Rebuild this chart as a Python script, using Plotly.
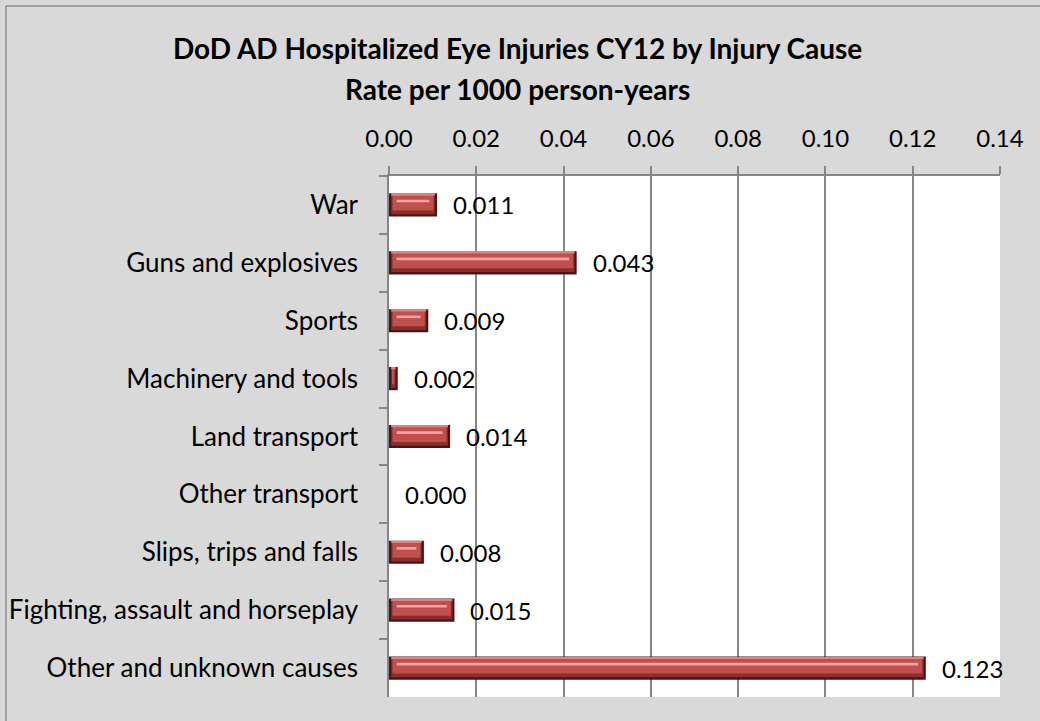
import plotly.graph_objects as go

categories = [
    "War",
    "Guns and explosives",
    "Sports",
    "Machinery and tools",
    "Land transport",
    "Other transport",
    "Slips, trips and falls",
    "Fighting, assault and horseplay",
    "Other and unknown causes",
]
rates = [0.011, 0.043, 0.009, 0.002, 0.014, 0.000, 0.008, 0.015, 0.123]
tick_vals = [0.00, 0.02, 0.04, 0.06, 0.08, 0.10, 0.12, 0.14]
tick_text = ["0.00", "0.02", "0.04", "0.06", "0.08", "0.10", "0.12", "0.14"]

TITLE_LINES = ["DoD AD Hospitalized Eye Injuries CY12 by Injury Cause",
               "Rate per 1000 person-years"]
FONT = "Lato, 'Open Sans', sans-serif"

W, H = 1040, 721
ML, MR, MT, MB = 389, 40, 176, 24
PW, PH = W - ML - MR, H - MT - MB

inset = 0.0005  # bevel inset in data units (styling)

fig = go.Figure()

# layered bars to mimic Excel bevel effect
layers = [
    # color, offset, width, x-inset multiplier
    ("#4a1414", -0.20, 0.40, 0),
    ("#8a2d2b", -0.19, 0.35, 1),
    ("#c0504d", -0.175, 0.27, 1.6),
    ("#f3a3a1", -0.09, 0.045, 3.5),
]
for color, off, wid, k in layers:
    xs = [max(v - 2 * k * inset, 0) for v in rates]
    bases = [k * inset if v - 2 * k * inset > 0 else 0 for v in rates]
    fig.add_trace(go.Bar(
        y=categories, x=xs, base=bases, orientation="h",
        marker=dict(color=color, line=dict(width=0)),
        offset=off, width=wid, hoverinfo="skip", showlegend=False,
    ))

# light top edge
fig.add_trace(go.Bar(
    y=categories, x=[max(v - 2 * inset, 0) for v in rates],
    base=[inset if v > 2 * inset else 0 for v in rates], orientation="h",
    marker=dict(color="#d98482", line=dict(width=0)),
    offset=-0.19, width=0.03, hoverinfo="skip", showlegend=False,
))

px2x = lambda px: (px - ML) / PW
py2y = lambda py: (H - MB - py) / PH

annotations = []
for c, v in zip(categories, rates):
    annotations.append(dict(
        x=v, y=c, xref="x", yref="y", text=f"{v:.3f}", showarrow=False,
        xanchor="left", yanchor="middle", xshift=14,
        font=dict(family=FONT, size=24, color="#000000"),
    ))

for line, py in zip(TITLE_LINES, [48, 89]):
    annotations.append(dict(
        x=px2x(517), y=py2y(py), xref="paper", yref="paper", text=f"<b>{line}</b>",
        showarrow=False, xanchor="center", yanchor="middle",
        font=dict(family=FONT, size=28, color="#000000"),
    ))

# outer chart border (left and top visible)
shapes = [
    dict(type="line", xref="paper", yref="paper", x0=px2x(6), x1=px2x(6),
         y0=py2y(6), y1=py2y(730), line=dict(color="#8c8c8c", width=1.5)),
    dict(type="line", xref="paper", yref="paper", x0=px2x(6), x1=px2x(1050),
         y0=py2y(6), y1=py2y(6), line=dict(color="#8c8c8c", width=1.5)),
]

fig.update_layout(
    width=W, height=H,
    margin=dict(l=ML, r=MR, t=MT, b=MB, pad=0, autoexpand=False),
    paper_bgcolor="#d9d9d9",
    plot_bgcolor="#ffffff",
    barmode="overlay",
    xaxis=dict(
        side="top", range=[0, 0.14], tickvals=tick_vals, ticktext=tick_text,
        showgrid=True, gridcolor="#868686", gridwidth=1.5,
        showline=True, linecolor="#868686", linewidth=1.5,
        ticks="outside", ticklen=8, tickcolor="#868686", tickwidth=1.5,
        ticklabelstandoff=10, zeroline=False, automargin=False,
        tickfont=dict(family=FONT, size=24, color="#000000"),
        fixedrange=True,
    ),
    yaxis=dict(
        categoryorder="array", categoryarray=categories, autorange="reversed",
        showgrid=False, showline=True, linecolor="#868686", linewidth=1.5,
        ticks="outside", ticklen=8, tickcolor="#868686", tickwidth=1.5,
        tickson="boundaries", ticklabelstandoff=24, automargin=False,
        tickfont=dict(family=FONT, size=26, color="#000000"),
        fixedrange=True,
    ),
    annotations=annotations,
    shapes=shapes,
)

fig.write_html(
    "out.html",
    config={"displayModeBar": False},
    post_script="document.body.style.margin='0';document.body.style.overflow='hidden';",
)
